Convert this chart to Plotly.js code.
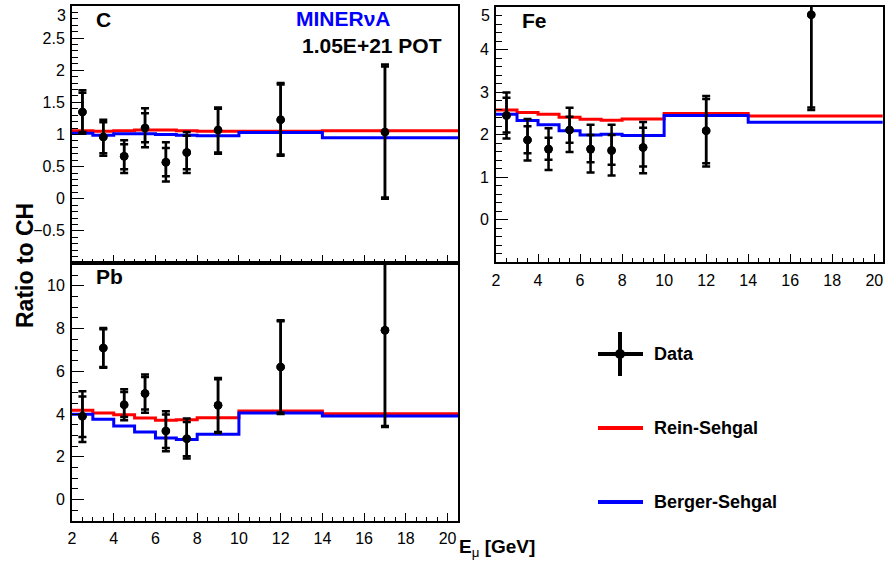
<!DOCTYPE html>
<html><head><meta charset="utf-8">
<script src="https://cdn.plot.ly/plotly-3.0.1.min.js"></script>
<style>html,body{margin:0;padding:0;background:#fff}#chart{width:885px;height:569px}</style>
</head><body><div id="chart"></div>
<script>
// ---------- data ----------
const xPoints = [2.5, 3.5, 4.5, 5.5, 6.5, 7.5, 9, 12, 17];
const binEdges = [2, 3, 4, 5, 6, 7, 8, 10, 14, 20.5];

// Carbon
const cRatio  = [1.35, 0.96, 0.66, 1.10, 0.57, 0.72, 1.07, 1.23, 1.04];
const cTotUp  = [1.69, 1.23, 0.91, 1.41, 0.88, 1.04, 1.42, 1.80, 2.09];
const cTotDn  = [1.01, 0.67, 0.40, 0.80, 0.27, 0.40, 0.70, 0.67, 0.00];
const cStatUp = [1.65, 1.19, 0.85, 1.33, 0.79, 0.98, 1.40, 1.78, 2.06];
const cStatDn = [1.04, 0.71, 0.46, 0.88, 0.35, 0.46, 0.72, 0.69, 0.02];
const cRS = [1.06, 1.05, 1.06, 1.07, 1.07, 1.06, 1.05, 1.05, 1.06];
const cBS = [1.02, 0.99, 1.01, 1.01, 1.00, 0.99, 0.98, 1.03, 0.95];

// Iron
const feRatio  = [2.45, 1.875, 1.66, 2.11, 1.66, 1.63, 1.70, 2.09, 4.82];
const feTotUp  = [2.99, 2.37, 2.15, 2.63, 2.23, 2.23, 2.30, 2.91, 7.10];
const feTotDn  = [1.91, 1.39, 1.17, 1.59, 1.11, 1.04, 1.09, 1.25, 2.58];
const feStatUp = [2.87, 2.20, 1.93, 2.42, 1.99, 1.99, 2.16, 2.84, 7.00];
const feStatDn = [2.05, 1.56, 1.41, 1.81, 1.35, 1.29, 1.25, 1.33, 2.64];
const feRS = [2.58, 2.52, 2.48, 2.41, 2.36, 2.34, 2.37, 2.50, 2.44];
const feBS = [2.48, 2.33, 2.23, 2.09, 1.99, 2.01, 1.98, 2.45, 2.29];

// Lead
const pbRatio  = [3.90, 7.09, 4.44, 4.97, 3.21, 2.85, 4.41, 6.20, 7.92];
const pbTotUp  = [5.07, 8.03, 5.16, 5.85, 4.13, 3.79, 5.69, 8.39, 12.5];
const pbTotDn  = [2.70, 6.17, 3.71, 4.07, 2.26, 1.92, 3.12, 4.01, 3.40];
const pbStatUp = [4.83, 7.97, 5.03, 5.74, 3.98, 3.63, 5.63, 8.34, 12.4];
const pbStatDn = [2.93, 6.20, 3.87, 4.22, 2.42, 2.03, 3.16, 4.07, 3.44];
const pbRS = [4.18, 4.05, 3.97, 3.82, 3.71, 3.74, 3.83, 4.15, 4.02];
const pbBS = [3.99, 3.76, 3.44, 3.16, 2.88, 2.81, 3.06, 4.05, 3.91];

// tick labels
const xTickVals = [2, 4, 6, 8, 10, 12, 14, 16, 18, 20];
const cTickVals = [-0.5, 0, 0.5, 1, 1.5, 2, 2.5];
const cTickText = ['\u22120.5', '0', '0.5', '1', '1.5', '2', '2.5'];
const cTopLabel = '3';
const feTickVals = [0, 1, 2, 3, 4];
const feTickText = ['0', '1', '2', '3', '4'];
const feTopLabel = '5';
const pbTickVals = [0, 2, 4, 6, 8, 10];
const pbTickText = ['0', '2', '4', '6', '8', '10'];

const panelNames = ['C', 'Fe', 'Pb'];
const legendNames = ['Data', 'Rein-Sehgal', 'Berger-Sehgal'];

// ---------- helpers ----------
const W = 885, H = 569;
const PX = p => p / W;
const PY = p => 1 - p / H;
const FONT = 'Liberation Sans, Arial, Helvetica, sans-serif';

function stepTrace(vals, color, xa, ya) {
  return {
    x: binEdges, y: vals.concat([vals[vals.length - 1]]),
    mode: 'lines', line: {shape: 'hv', color: color, width: 3},
    xaxis: xa, yaxis: ya, hoverinfo: 'skip', showlegend: false
  };
}
function dataTrace(y, up, dn, xa, ya) {
  return {
    x: xPoints, y: y, mode: 'markers',
    marker: {size: 8.5, color: 'black'},
    error_y: {type: 'data', symmetric: false,
      array: up.map((u, i) => u - y[i]),
      arrayminus: dn.map((d, i) => y[i] - d),
      color: 'black', thickness: 2.5, width: 4},
    xaxis: xa, yaxis: ya, showlegend: false, hoverinfo: 'skip'
  };
}

const traces = [
  stepTrace(cRS, '#ff0000', 'x', 'y'), stepTrace(cBS, '#0000ff', 'x', 'y'),
  dataTrace(cRatio, cTotUp, cTotDn, 'x', 'y'), dataTrace(cRatio, cStatUp, cStatDn, 'x', 'y'),
  stepTrace(feRS, '#ff0000', 'x2', 'y2'), stepTrace(feBS, '#0000ff', 'x2', 'y2'),
  dataTrace(feRatio, feTotUp, feTotDn, 'x2', 'y2'), dataTrace(feRatio, feStatUp, feStatDn, 'x2', 'y2'),
  stepTrace(pbRS, '#ff0000', 'x3', 'y3'), stepTrace(pbBS, '#0000ff', 'x3', 'y3'),
  dataTrace(pbRatio, pbTotUp, pbTotDn, 'x3', 'y3'), dataTrace(pbRatio, pbStatUp, pbStatDn, 'x3', 'y3')
];

const tickFont = {family: FONT, size: 16, color: 'black'};
function xAxis(domain, range, anchor, labels) {
  return {
    domain: domain, range: range, anchor: anchor,
    showline: true, mirror: true, linecolor: 'black', linewidth: 2,
    showgrid: false, zeroline: false,
    tickmode: 'array', tickvals: xTickVals, ticks: 'inside', ticklen: 8, tickwidth: 1, tickcolor: 'black',
    minor: {tickmode: 'linear', tick0: 2, dtick: 0.5, ticks: 'inside', ticklen: 4, tickwidth: 1, tickcolor: 'black'},
    showticklabels: labels, tickfont: tickFont, ticklabelstandoff: 2
  };
}
function yAxis(domain, range, anchor, vals, text, minorD) {
  return {
    domain: domain, range: range, anchor: anchor,
    showline: true, mirror: true, linecolor: 'black', linewidth: 2,
    showgrid: false, zeroline: false,
    tickmode: 'array', tickvals: vals, ticktext: text,
    ticks: 'inside', ticklen: 12, tickwidth: 1, tickcolor: 'black',
    minor: {tickmode: 'linear', tick0: -1, dtick: minorD, ticks: 'inside', ticklen: 6, tickwidth: 1, tickcolor: 'black'},
    tickfont: tickFont, ticklabelstandoff: 2
  };
}

const dxLeft = [PX(72), PX(458)];
const dxRight = [PX(496), PX(882.7)];

const layout = {
  width: W, height: H,
  margin: {l: 0, r: 0, t: 0, b: 0},
  paper_bgcolor: 'white', plot_bgcolor: 'white',
  font: {family: FONT, color: 'black'},
  showlegend: false,
  xaxis: xAxis(dxLeft, [2, 20.5], 'y', false),
  yaxis: yAxis([PY(263), PY(6)], [-1, 3], 'x', cTickVals, cTickText, 0.1),
  xaxis2: xAxis(dxRight, [2, 20.4], 'y2', true),
  yaxis2: yAxis([PY(262.3), PY(7)], [-1, 5], 'x2', feTickVals, feTickText, 0.2),
  xaxis3: xAxis(dxLeft, [2, 20.5], 'y3', true),
  yaxis3: yAxis([PY(521), PY(263)], [-1, 11.07], 'x3', pbTickVals, pbTickText, 0.5),
  annotations: [
    // shifted top labels (as in reference)
    {text: cTopLabel, x: PX(68), y: PY(15), xref: 'paper', yref: 'paper', xanchor: 'right', yanchor: 'middle', showarrow: false, font: tickFont},
    {text: feTopLabel, x: PX(492), y: PY(15), xref: 'paper', yref: 'paper', xanchor: 'right', yanchor: 'middle', showarrow: false, font: tickFont},
    // panel labels
    {text: '<b>' + panelNames[0] + '</b>', x: PX(94), y: PY(20), xref: 'paper', yref: 'paper', xanchor: 'left', yanchor: 'middle', showarrow: false, font: {family: FONT, size: 21}},
    {text: '<b>' + panelNames[1] + '</b>', x: PX(520), y: PY(21), xref: 'paper', yref: 'paper', xanchor: 'left', yanchor: 'middle', showarrow: false, font: {family: FONT, size: 21}},
    {text: '<b>' + panelNames[2] + '</b>', x: PX(94), y: PY(277), xref: 'paper', yref: 'paper', xanchor: 'left', yanchor: 'middle', showarrow: false, font: {family: FONT, size: 21}},
    // experiment labels
    {text: '<b>MINER\u03BDA</b>', x: PX(393), y: PY(19), xref: 'paper', yref: 'paper', xanchor: 'right', yanchor: 'middle', showarrow: false, font: {family: FONT, size: 21, color: '#0000ff'}},
    {text: '<b>1.05E+21 POT</b>', x: PX(444), y: PY(46), xref: 'paper', yref: 'paper', xanchor: 'right', yanchor: 'middle', showarrow: false, font: {family: FONT, size: 21, color: 'black'}},
    // axis titles
    {text: '<b>Ratio to CH</b>', x: PX(25), y: PY(266), xref: 'paper', yref: 'paper', xanchor: 'center', yanchor: 'middle', textangle: -90, showarrow: false, font: {family: FONT, size: 23}},
    {text: '<b>E</b><sub>\u03BC</sub><b> [GeV]</b>', x: PX(457), y: PY(548), xref: 'paper', yref: 'paper', xanchor: 'left', yanchor: 'middle', showarrow: false, font: {family: FONT, size: 19}},
    // legend texts
    {text: '<b>' + legendNames[0] + '</b>', x: PX(652), y: PY(354), xref: 'paper', yref: 'paper', xanchor: 'left', yanchor: 'middle', showarrow: false, font: {family: FONT, size: 18}},
    {text: '<b>' + legendNames[1] + '</b>', x: PX(652), y: PY(428), xref: 'paper', yref: 'paper', xanchor: 'left', yanchor: 'middle', showarrow: false, font: {family: FONT, size: 18}},
    {text: '<b>' + legendNames[2] + '</b>', x: PX(652), y: PY(502), xref: 'paper', yref: 'paper', xanchor: 'left', yanchor: 'middle', showarrow: false, font: {family: FONT, size: 18}}
  ],
  shapes: [
    // legend: data cross
    {type: 'line', xref: 'paper', yref: 'paper', x0: PX(598), x1: PX(643), y0: PY(354), y1: PY(354), line: {color: 'black', width: 4}},
    {type: 'line', xref: 'paper', yref: 'paper', x0: PX(620), x1: PX(620), y0: PY(332), y1: PY(376), line: {color: 'black', width: 4}},
    {type: 'circle', xref: 'paper', yref: 'paper', x0: PX(615), x1: PX(625), y0: PY(349), y1: PY(359), fillcolor: 'black', line: {color: 'black', width: 0}},
    // legend: model lines
    {type: 'line', xref: 'paper', yref: 'paper', x0: PX(598), x1: PX(643), y0: PY(428), y1: PY(428), line: {color: '#ff0000', width: 4}},
    {type: 'line', xref: 'paper', yref: 'paper', x0: PX(598), x1: PX(643), y0: PY(502), y1: PY(502), line: {color: '#0000ff', width: 4}}
  ]
};

Plotly.newPlot('chart', traces, layout, {staticPlot: true, displayModeBar: false});
</script>
</body></html>
